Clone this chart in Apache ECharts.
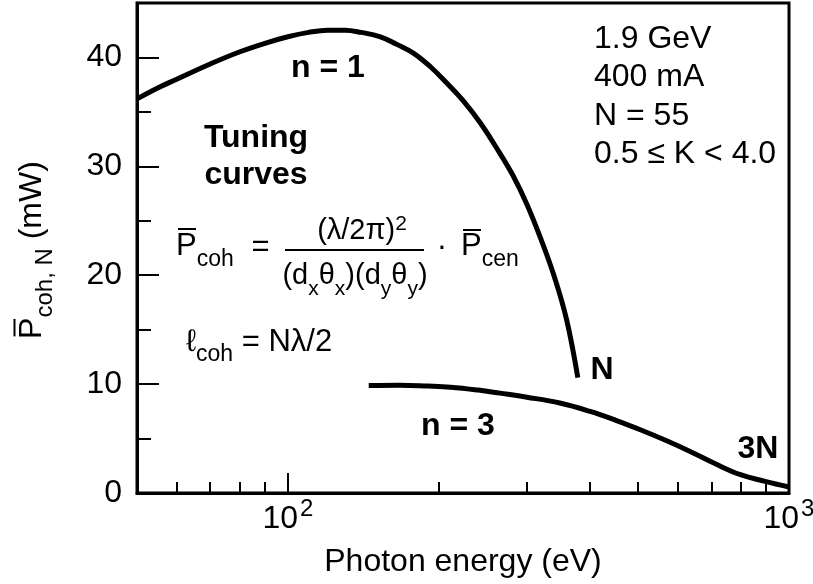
<!DOCTYPE html>
<html>
<head>
<meta charset="utf-8">
<script src="https://cdn.jsdelivr.net/npm/echarts@6/dist/echarts.min.js"></script>
<style>
  html, body { margin: 0; padding: 0; background: #fff; }
  #chart { width: 813px; height: 584px; }
</style>
</head>
<body>
<div id="chart"></div>
<script>
// Tuning curves: photon energy (eV) vs. average coherent power (mW)
const energyN1 = [50, 55, 60, 70, 80, 90, 100, 110, 120, 130, 140, 153, 165, 178, 193, 208, 225, 242, 260, 281, 300, 320, 340, 360, 379];
const powerN1  = [36.2, 37.2, 38.0, 39.4, 40.5, 41.3, 41.9, 42.3, 42.5, 42.5, 42.3, 41.9, 41.2, 40.4, 39.1, 37.6, 35.9, 34.0, 31.8, 29.2, 26.5, 23.3, 19.9, 15.9, 10.6];

const energyN3 = [145, 167, 190, 211, 240, 265, 300, 349, 401, 450, 505, 570, 635, 713, 800, 896, 1000];
const powerN3  = [9.87, 9.9, 9.82, 9.72, 9.45, 9.17, 8.8, 8.26, 7.49, 6.7, 5.81, 4.8, 3.82, 2.68, 1.68, 1.07, 0.55];

const xMajorTicks = [100, 1000];
const xMinorTicks = [60, 70, 80, 90, 200, 300, 400, 500, 600, 700, 800, 900];
const yMajorTicks = [0, 10, 20, 30, 40];
const yMinorTicks = [5, 15, 25, 35];

const beamParams = ['1.9 GeV', '400 mA', 'N = 55', '0.5 \u2264 K < 4.0'];

const FONT = '"Liberation Sans", Arial, Helvetica, sans-serif';
const F = 32;      // axis text and labels
const FS = 24;     // superscripts on tick labels

function pairs(xs, ys) { return xs.map((x, i) => [x, ys[i]]); }

// Rich-text pieces are all top-aligned; the top padding sets how far each
// one sits below the line top (subscripts lower, superscripts higher).
function mathRich(main, small) {
  const c = '#000';
  const mainCenter = 6 + main / 2;
  const subCenter = mainCenter + 0.3465 * main + 10 - 0.3465 * small;
  return {
    m:   { fontFamily: FONT, fontSize: main,  color: c, verticalAlign: 'top', padding: [6, 0, 0, 0] },
    s:   { fontFamily: FONT, fontSize: small, color: c, verticalAlign: 'top',
           padding: [Math.round(subCenter - small / 2), 0, 0, 0] },
    sup: { fontFamily: FONT, fontSize: small, color: c, verticalAlign: 'top', padding: [3, 0, 0, 0] }
  };
}
const formulaRich = mathRich(31, 23);
const fracRich = mathRich(29, 21);
const YT = 32, YTS = 24;   // y-axis title sizes
const yTitleRich = mathRich(YT, YTS);

function measure(text, size) {
  const ctx = document.createElement('canvas').getContext('2d');
  ctx.font = size + 'px ' + FONT;
  return ctx.measureText(text).width;
}

const yTitleWidth = measure('P', YT) + measure('coh, N', YTS) + measure(' (mW)', YT);
const yTitleStart = -yTitleWidth / 2;

const chart = echarts.init(document.getElementById('chart'), null, { renderer: 'canvas' });

function boldLabel(text, x, y) {
  return { type: 'text', x: x, y: y, silent: true, z: 100,
           style: { text: text, font: 'bold ' + F + 'px ' + FONT, fill: '#000',
                    align: 'center', verticalAlign: 'middle' } };
}
function rule(x1, y1, x2, y2) {
  return { type: 'line', silent: true, z: 100, shape: { x1: x1, y1: y1, x2: x2, y2: y2 },
           style: { stroke: '#000', lineWidth: 2 } };
}
function math(text, x, y, align, rich) {
  return { type: 'text', x: x, y: y, silent: true, z: 100,
           style: { text: text, rich: rich || formulaRich, align: align || 'left', verticalAlign: 'top' } };
}
function plain(text, x, y, size) {
  return { type: 'text', x: x, y: y, silent: true, z: 100,
           style: { text: text, font: size + 'px ' + FONT, fill: '#000', align: 'center', verticalAlign: 'middle' } };
}

const option = {
  animation: false,
  backgroundColor: '#fff',
  grid: {
    left: 137, right: 24, top: 3, bottom: 91,
    show: true, borderColor: '#000', borderWidth: 3,
    containLabel: false, outerBoundsMode: 'none'
  },
  xAxis: [
    {
      type: 'log', logBase: 10, min: 50, max: 1000, position: 'bottom',
      axisLine: { show: true, lineStyle: { color: '#000', width: 3 } },
      axisTick: { show: true, inside: true, length: 11, customValues: xMinorTicks,
                  lineStyle: { color: '#000', width: 2 } },
      minorTick: { show: false },
      splitLine: { show: false },
      axisLabel: {
        customValues: xMajorTicks, margin: 4, color: '#000',
        formatter: function (v) {
          const p = v > 10 ? Math.round(Math.log10(v)) : Math.round(v);
          return '{b|10}{s|' + p + '}';
        },
        rich: {
          b: { fontFamily: FONT, fontSize: F, verticalAlign: 'top', color: '#000', padding: [6, 0, 0, 0] },
          s: { fontFamily: FONT, fontSize: FS, verticalAlign: 'top', color: '#000', padding: [0, 0, 0, 2] }
        }
      },
      name: 'Photon energy (eV)', nameLocation: 'middle', nameGap: 53,
      nameTextStyle: { fontFamily: FONT, fontSize: F, color: '#000' }
    },
    {
      type: 'log', logBase: 10, min: 50, max: 1000, position: 'bottom',
      axisLine: { show: false },
      axisTick: { show: true, inside: true, length: 20, customValues: xMajorTicks,
                  lineStyle: { color: '#000', width: 2 } },
      axisLabel: { show: false },
      splitLine: { show: false }
    }
  ],
  yAxis: [
    {
      type: 'value', min: 0, max: 45, position: 'left',
      axisLine: { show: true, lineStyle: { color: '#000', width: 3 } },
      axisTick: { show: true, inside: true, length: 22, customValues: yMajorTicks,
                  lineStyle: { color: '#000', width: 2 } },
      axisLabel: { customValues: yMajorTicks, margin: 15, color: '#000',
                   fontFamily: FONT, fontSize: F, padding: [5, 0, 0, 0] },
      splitLine: { show: false }
    },
    {
      type: 'value', min: 0, max: 45, position: 'left',
      axisLine: { show: false },
      axisTick: { show: true, inside: true, length: 14, customValues: yMinorTicks,
                  lineStyle: { color: '#000', width: 2 } },
      axisLabel: { show: false },
      splitLine: { show: false }
    }
  ],
  series: [
    {
      name: 'n = 1', type: 'line', xAxisIndex: 0, yAxisIndex: 0,
      data: pairs(energyN1, powerN1),
      showSymbol: false, smooth: 0.4,
      lineStyle: { color: '#000', width: 5, cap: 'butt' }
    },
    {
      name: 'n = 3', type: 'line', xAxisIndex: 0, yAxisIndex: 0,
      data: pairs(energyN3, powerN3),
      showSymbol: false, smooth: 0.4,
      lineStyle: { color: '#000', width: 5, cap: 'butt' }
    }
  ],
  graphic: [
    // y-axis title, read bottom to top
    {
      type: 'group', x: 10.5, y: 250, rotation: Math.PI / 2, silent: true, z: 100,
      children: [
        { type: 'text', x: yTitleStart, y: 0,
          style: { text: '{m|P}{s|coh, N}{m| (mW)}', rich: yTitleRich, align: 'left', verticalAlign: 'top' } },
        { type: 'line', shape: { x1: yTitleStart + 2.5, y1: 4, x2: yTitleStart + 20, y2: 4 },
          style: { stroke: '#000', lineWidth: 2 } }
      ]
    },
    // curve labels
    boldLabel('n = 1', 328, 68),
    boldLabel('N', 602, 370),
    boldLabel('n = 3', 458, 426),
    boldLabel('3N', 758, 449),
    { type: 'text', x: 256, y: 119.5, silent: true, z: 100,
      style: { text: 'Tuning\ncurves', font: 'bold ' + F + 'px ' + FONT, fill: '#000',
               align: 'center', verticalAlign: 'top', lineHeight: 37 } },
    // beam parameters
    { type: 'text', x: 594, y: 19.75, silent: true, z: 100,
      style: { text: beamParams.join('\n'), font: F + 'px ' + FONT, fill: '#000',
               align: 'left', verticalAlign: 'top', lineHeight: 38.5 } },
    // coherent power formula
    math('{m|P}{s|coh}', 176, 225),
    rule(178, 229, 196, 229),
    plain('=', 260.5, 247, 31),
    math('{m|(\u03bb/2\u03c0)}{sup|2}', 362, 210.5, 'center', fracRich),
    rule(285, 250, 424, 250),
    math('{m|(d}{s|x}{m|\u03b8}{s|x}{m|)(d}{s|y}{m|\u03b8}{s|y}{m|)}', 355, 255.5, 'center', fracRich),
    plain('\u00b7', 442, 247, 31),
    math('{m|P}{s|cen}', 461, 225),
    rule(463, 230, 481, 230),
    // coherence length
    math('{m|\u2113}{s|coh}{m| = N\u03bb/2}', 186, 320.5)
  ]
};

chart.setOption(option);
</script>
</body>
</html>
